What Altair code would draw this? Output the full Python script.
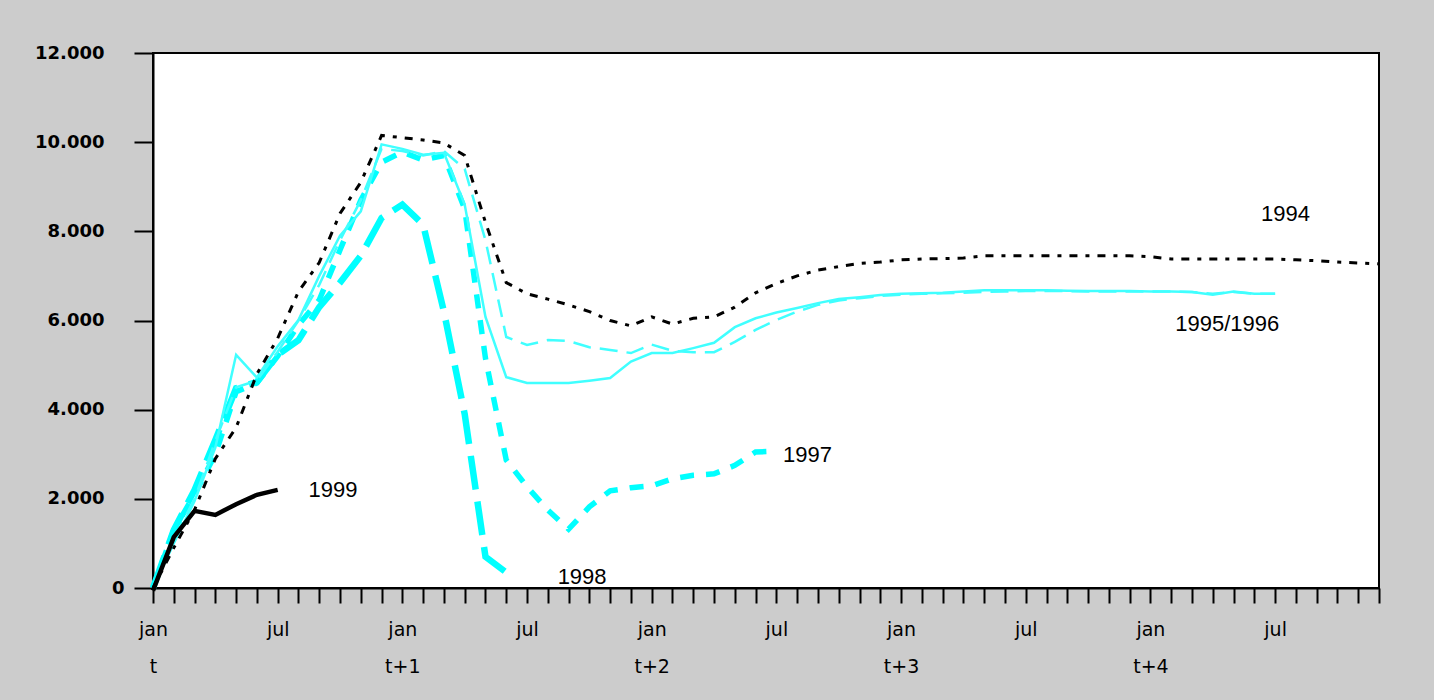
import altair as alt
import pandas as pd

months = list(range(60))

s1994 = [0, 900, 1750, 2900, 3600, 4800, 5600, 6650, 7300, 8400,
         9100, 10150, 10100, 10050, 9980, 9700, 8200, 6850, 6600, 6480,
         6350, 6200, 6000, 5880, 6080, 5920, 6050, 6080, 6300, 6620,
         6830, 7000, 7130, 7210, 7280, 7310, 7360, 7380, 7390, 7400,
         7450, 7450, 7450, 7450, 7450, 7450, 7450, 7450, 7430, 7380,
         7380, 7380, 7380, 7380, 7380, 7360, 7340, 7310, 7290, 7270]
s1995 = [0, 1000, 1950, 3150, 5230, 4720, 5420, 6010, 7000, 7900,
         8450, 9950, 9850, 9720, 9760, 8600, 6080, 4730, 4600, 4600,
         4600, 4650, 4710, 5080, 5270, 5270, 5380, 5500, 5850, 6050,
         6180, 6280, 6390, 6480, 6520, 6570, 6600, 6610, 6620, 6650,
         6680, 6680, 6680, 6680, 6670, 6660, 6660, 6660, 6650, 6650,
         6640, 6580, 6650, 6600, 6600]
s1996 = [0, 1100, 2000, 3300, 4500, 4650, 5300, 6000, 6800, 7800,
         8700, 9850, 9800, 9700, 9800, 9400, 7800, 5630, 5450, 5560,
         5540, 5400, 5340, 5270, 5460, 5320, 5290, 5290, 5520, 5790,
         6010, 6200, 6350, 6450, 6500, 6550, 6580, 6600, 6610, 6620,
         6640, 6650, 6660, 6660, 6660, 6650, 6650, 6650, 6650, 6650,
         6640, 6600, 6640, 6600, 6600]
s1997 = [0, 1300, 2100, 3000, 4400, 4600, 5200, 5900, 6460, 7580,
         8700, 9550, 9780, 9600, 9700, 8500, 5150, 2870, 2270, 1750,
         1320, 1820, 2180, 2250, 2290, 2450, 2530, 2560, 2750, 3050,
         3070]
s1998 = [0, 1300, 2200, 3320, 4480, 4620, 5230, 5560, 6300, 6850,
         7450, 8300, 8600, 8150, 6200, 3900, 700, 350]
s1999 = [-60, 1140, 1730, 1640, 1880, 2090, 2200]

label_text = ["1999", "1998", "1997", "1994", "1995/1996"]
label_month = [8.66, 20.65, 31.5, 54.5, 51.7]
label_value = [2200, 250, 2980, 8390, 5920]

y_ticks = [0, 2000, 4000, 6000, 8000, 10000, 12000]


def frame(values):
    return pd.DataFrame({"month": months[:len(values)], "value": values})


x_enc = alt.X(
    "month:Q",
    scale=alt.Scale(domain=[0, 59], nice=False, zero=False),
    axis=alt.Axis(
        values=months,
        labelExpr="datum.value % 12 == 0 ? ['jan', datum.value == 0 ? 't' : 't+' + (datum.value / 12)] : (datum.value % 12 == 6 ? ['jul', ''] : '')",
        tickSize=15, tickWidth=2, tickColor="black",
        domain=True, domainColor="black", domainWidth=2,
        grid=False, labelFont="DejaVu Sans", labelFontSize=19,
        labelColor="black", labelPadding=17, labelLineHeight=37,
        labelOverlap=False, labelFlush=False, labelBound=False,
        labelBaseline="top", title=None,
    ),
)
y_enc = alt.Y(
    "value:Q",
    scale=alt.Scale(domain=[0, 12000], nice=False, zero=False),
    axis=alt.Axis(
        values=y_ticks,
        labelExpr="replace(format(datum.value, ','), ',', '.')",
        tickSize=19, tickWidth=2, tickColor="black",
        domain=True, domainColor="black", domainWidth=2,
        grid=False, labelFont="DejaVu Sans", labelFontSize=18,
        labelFontWeight="bold", labelColor="black",
        labelPadding={"condition": {"test": "datum.value === 0", "value": 10}, "value": 30},
        labelOverlap=False, labelFlush=False, labelBound=False, title=None,
    ),
)


def line(values, color, width, dash=None):
    kw = dict(color=color, strokeWidth=width, clip=False)
    if dash:
        kw["strokeDash"] = dash
    return alt.Chart(frame(values)).mark_line(**kw).encode(x=x_enc, y=y_enc)


layers = [
    line(s1998, "#00FFFF", 6.5, [34, 12]),
    line(s1997, "#00FFFF", 5.5, [14, 12]),
    line(s1996, "#40FFFF", 2.5, [18, 9]),
    line(s1995, "#40FFFF", 2.5),
    line(s1994, "#000000", 3, [8, 8, 4, 8]),
    line(s1999, "#000000", 4.5),
]

labels = alt.Chart(pd.DataFrame({"month": label_month, "value": label_value, "text": label_text})).mark_text(
    font="Liberation Sans", fontSize=22, color="black", align="center", baseline="middle"
).encode(x=x_enc, y=y_enc, text="text:N")

chart = alt.layer(*layers, labels).properties(
    width=1226, height=535,
    autosize=alt.AutoSizeParams(type="none"),
    padding={"left": 153, "top": 53, "right": 55, "bottom": 112},
    background="#CCCCCC",
).configure_view(stroke="black", strokeWidth=2, fill="white")

chart.save("out.html", embed_options={"renderer": "svg", "actions": False})
